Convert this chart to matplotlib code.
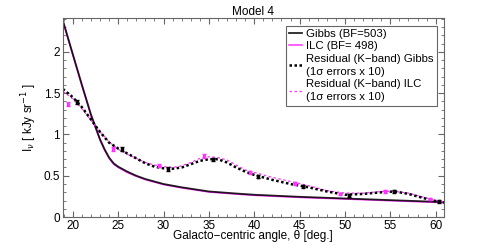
import numpy as np
import matplotlib
matplotlib.use('Agg')
import matplotlib.pyplot as plt
from matplotlib.ticker import MultipleLocator

matplotlib.rcParams.update({'font.size': 8.5, 'font.family': ['Liberation Sans', 'DejaVu Sans']})

# model curves
theta_model = [18.9, 20, 21, 22, 23, 23.5, 24, 24.5, 25, 26, 27, 28, 30, 32, 35, 38, 40, 45, 50,
               55, 60, 60.9]
gibbs = [2.38, 1.97, 1.60, 1.24, 0.94, 0.82, 0.72, 0.65, 0.61, 0.55, 0.50, 0.46, 0.40, 0.36, 0.31,
         0.285, 0.27, 0.245, 0.225, 0.205, 0.185, 0.18]
ilc = [2.37, 1.96, 1.59, 1.23, 0.93, 0.81, 0.71, 0.64, 0.60, 0.54, 0.493, 0.453, 0.393, 0.353,
       0.303, 0.278, 0.263, 0.238, 0.218, 0.198, 0.178, 0.173]

# residual curves
theta_res = [18.9, 20, 21, 22, 23, 24, 25, 26, 27, 28, 29, 30, 31, 32, 33, 34, 35, 36, 37, 38,
             39, 40, 42, 44, 46, 48, 50, 52, 54, 55.5, 57, 59, 60.9]
res_gibbs = [1.55, 1.45, 1.33, 1.18, 1.03, 0.90, 0.83, 0.77, 0.71, 0.65, 0.61, 0.59, 0.585, 0.60,
             0.64, 0.68, 0.70, 0.70, 0.66, 0.60, 0.55, 0.51, 0.45, 0.40, 0.36, 0.31, 0.27, 0.28,
             0.30, 0.31, 0.28, 0.22, 0.17]
res_ilc = [1.52, 1.43, 1.31, 1.17, 1.03, 0.91, 0.82, 0.76, 0.71, 0.66, 0.63, 0.61, 0.60, 0.62,
           0.66, 0.71, 0.73, 0.72, 0.69, 0.63, 0.57, 0.54, 0.48, 0.43, 0.38, 0.32, 0.29, 0.29,
           0.31, 0.31, 0.29, 0.23, 0.18]

# data points with errors (x 10)
theta_pts_gibbs = [20.45, 25.45, 30.5, 35.45, 40.4, 45.4, 50.4, 55.4, 60.4]
pts_gibbs = [1.39, 0.82, 0.58, 0.70, 0.49, 0.37, 0.26, 0.31, 0.19]
err_gibbs = [0.025, 0.022, 0.02, 0.02, 0.018, 0.018, 0.016, 0.016, 0.016]
theta_pts_ilc = [19.45, 24.45, 29.5, 34.45, 39.5, 44.5, 49.4, 54.4, 59.4]
pts_ilc = [1.37, 0.82, 0.62, 0.74, 0.545, 0.41, 0.28, 0.31, 0.22]
err_ilc = [0.025, 0.022, 0.02, 0.02, 0.018, 0.018, 0.016, 0.016, 0.016]

magenta = '#ff33ff'

fig = plt.figure(figsize=(4.91, 2.45), dpi=100, facecolor='w')
ax = fig.add_axes([0.128, 0.114, 0.776, 0.813])

ax.plot(theta_model, ilc, color=magenta, lw=1.1, label='ILC (BF= 498)')
ax.plot(theta_model, gibbs, color='k', lw=1.3, alpha=0.85, label='Gibbs (BF=503)')
ax.plot(theta_res, res_ilc, color=magenta, lw=0.9, ls=(0, (2, 2)),
        label='Residual (K\u2212band) ILC\n(1\u03c3 errors x 10)')
ax.plot(theta_res, res_gibbs, color='k', lw=1.8, ls=(0, (1, 1)),
        label='Residual (K\u2212band) Gibbs\n(1\u03c3 errors x 10)')
ax.errorbar(theta_pts_ilc, pts_ilc, yerr=err_ilc, fmt='s', ms=1.5, color=magenta,
            ecolor=magenta, elinewidth=1.3, capsize=1.5, capthick=1)
ax.errorbar(theta_pts_gibbs, pts_gibbs, yerr=err_gibbs, fmt='s', ms=1.5, color='k',
            ecolor='k', elinewidth=1.3, capsize=1.5, capthick=1)

ax.set_xlim(18.9, 60.9)
ax.set_ylim(0, 2.41)
ax.xaxis.set_major_locator(MultipleLocator(5))
ax.xaxis.set_minor_locator(MultipleLocator(1))
ax.yaxis.set_minor_locator(MultipleLocator(0.1))
ax.set_yticks([0, 0.5, 1, 1.5, 2])
ax.set_yticklabels(['0', '0.5', '1', '1.5', '2'])
ax.tick_params(which='both', direction='in', top=True, right=True, color='#666666', pad=2)
ax.tick_params(which='major', length=4)
ax.tick_params(which='minor', length=2)
for sp in ax.spines.values():
    sp.set_color('#666666')
    sp.set_linewidth(0.8)

ax.set_title('Model 4', fontsize=8.5, pad=2)
ax.set_xlabel('Galacto\u2212centric angle, \u03b8 [deg.]', labelpad=-1)
ax.set_ylabel('I$_\\nu$ [ kJy sr$^{-1}$ ]', labelpad=3)

h, l = ax.get_legend_handles_labels()
order = [1, 0, 3, 2]
leg = ax.legend([h[i] for i in order], [l[i] for i in order], loc='upper right',
                bbox_to_anchor=(0.997, 0.99), fontsize=8.2, handlelength=1.1,
                handletextpad=0.4, borderpad=0.3, labelspacing=0.2, fancybox=False,
                framealpha=1, edgecolor='#666666')
leg.get_frame().set_linewidth(0.8)
for t in leg.get_texts():
    t.set_linespacing(1.4)

plt.savefig('out.png', dpi=100)
